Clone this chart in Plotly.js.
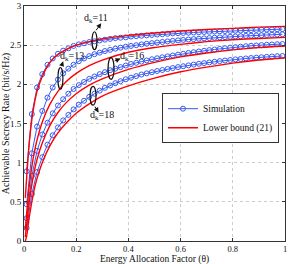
<!DOCTYPE html>
<html>
<head>
<meta charset="utf-8">
<script src="https://cdn.plot.ly/plotly-3.0.1.min.js"></script>
<style>html,body{margin:0;padding:0;background:#fff;}#chart{width:298px;height:264px;}</style>
</head>
<body>
<div id="chart"></div>
<script>
// Simulation points (theta = 0.01 : 0.02 : 0.99)
const thetaSim = [0.01,0.03,0.05,0.07,0.09,0.11,0.13,0.15,0.17,0.19,0.21,0.23,0.25,0.27,0.29,0.31,0.33,0.35,0.37,0.39,0.41,0.43,0.45,0.47,0.49,0.51,0.53,0.55,0.57,0.59,0.61,0.63,0.65,0.67,0.69,0.71,0.73,0.75,0.77,0.79,0.81,0.83,0.85,0.87,0.89,0.91,0.93,0.95,0.97,0.99];
const simD11 = [0.89,1.62,1.96,2.13,2.25,2.33,2.39,2.43,2.46,2.49,2.51,2.525,2.54,2.55,2.56,2.57,2.58,2.59,2.595,2.60,2.61,2.615,2.62,2.625,2.63,2.635,2.64,2.645,2.65,2.653,2.656,2.659,2.662,2.665,2.668,2.671,2.674,2.677,2.68,2.682,2.685,2.687,2.69,2.692,2.695,2.697,2.699,2.701,2.703,2.705];
const simD13 = [0.47,1.12,1.46,1.66,1.83,1.96,2.06,2.14,2.20,2.25,2.295,2.33,2.36,2.385,2.405,2.425,2.44,2.455,2.468,2.48,2.49,2.50,2.51,2.518,2.526,2.534,2.541,2.548,2.555,2.561,2.567,2.572,2.577,2.582,2.587,2.591,2.595,2.599,2.603,2.607,2.611,2.614,2.618,2.621,2.624,2.627,2.630,2.633,2.636,2.639];
const simD16 = [0.29,0.83,1.15,1.36,1.51,1.63,1.73,1.81,1.88,1.94,1.99,2.03,2.07,2.10,2.13,2.155,2.18,2.20,2.22,2.24,2.26,2.275,2.29,2.305,2.32,2.333,2.345,2.357,2.368,2.379,2.39,2.40,2.41,2.419,2.428,2.437,2.445,2.453,2.461,2.468,2.475,2.481,2.487,2.492,2.497,2.501,2.505,2.509,2.512,2.515];
const simD18 = [0.165,0.60,0.88,1.07,1.23,1.35,1.45,1.54,1.61,1.68,1.74,1.79,1.84,1.88,1.92,1.955,1.985,2.015,2.04,2.065,2.085,2.105,2.125,2.14,2.155,2.17,2.183,2.196,2.208,2.22,2.231,2.242,2.252,2.262,2.271,2.28,2.288,2.296,2.304,2.311,2.318,2.324,2.33,2.336,2.341,2.346,2.351,2.355,2.359,2.362];

// Lower bound (21)
const thetaLB = [0.005,0.01,0.02,0.03,0.04,0.05,0.07,0.1,0.13,0.16,0.2,0.25,0.3,0.4,0.5,0.6,0.7,0.8,0.9,1.0];
const lbD11 = [0.55,0.80,1.25,1.55,1.76,1.91,2.10,2.28,2.38,2.44,2.50,2.545,2.58,2.625,2.655,2.68,2.70,2.715,2.73,2.74];
const lbD13 = [0.15,0.35,0.70,0.95,1.14,1.29,1.52,1.75,1.91,2.03,2.14,2.24,2.31,2.41,2.47,2.51,2.545,2.57,2.585,2.60];
const lbD16 = [0.05,0.20,0.50,0.72,0.90,1.04,1.25,1.48,1.64,1.76,1.88,1.99,2.07,2.19,2.28,2.35,2.40,2.44,2.47,2.49];
const lbD18 = [0.00,0.06,0.30,0.50,0.67,0.80,1.00,1.22,1.38,1.50,1.63,1.75,1.85,1.98,2.08,2.16,2.22,2.27,2.31,2.34];

const xTicks = [0,0.2,0.4,0.6,0.8,1];
const xTickText = ['0','0.2','0.4','0.6','0.8','1'];
const yTicks = [0,0.5,1,1.5,2,2.5,3];
const yTickText = ['0','0.5','1','1.5','2','2.5','3'];
const dLabels = ['11','13','16','18'];
const xTitle = 'Energy Allocation Factor (θ)';
const yTitle = 'Achievable Secrecy Rate (bit/s/Hz)';

const blue = 'rgb(55,90,240)';
const red = 'rgb(255,0,0)';
const serif = 'Liberation Serif, Times New Roman, serif';

const sims = [simD11, simD13, simD16, simD18];
const lbs = [lbD11, lbD13, lbD16, lbD18];
const traces = [];
sims.forEach((s, i) => traces.push({
  x: thetaSim, y: s, type: 'scatter', mode: 'lines+markers',
  name: 'Simulation', legendgroup: 'sim', showlegend: i === 0,
  line: {color: blue, width: 1},
  marker: {symbol: 'circle-open', size: 5, color: blue, line: {width: 1}}
}));
lbs.forEach((s, i) => traces.push({
  x: thetaLB, y: s, type: 'scatter', mode: 'lines',
  name: 'Lower bound (21)', legendgroup: 'lb', showlegend: i === 0,
  line: {color: red, width: 1.4, shape: 'spline', smoothing: 0.6}
}));

// ellipses and arrows marking each d_k group
const ell = [
  {x0:0.2605,x1:0.2797,y0:2.443,y1:2.671},
  {x0:0.130,x1:0.149,y0:1.937,y1:2.215},
  {x0:0.322,x1:0.345,y0:2.063,y1:2.342},
  {x0:0.253,x1:0.276,y0:1.734,y1:1.975}
];
const shapes = ell.map(e => ({type:'circle', xref:'x', yref:'y', x0:e.x0, x1:e.x1, y0:e.y0, y1:e.y1, line:{color:'#111', width:1.2}}));
const arrows = [
  {x:0.296,y:2.78,ax:0.272,ay:2.671},
  {x:0.150,y:2.295,ax:0.142,ay:2.215},
  {x:0.370,y:2.33,ax:0.342,ay:2.29},
  {x:0.286,y:1.64,ax:0.268,ay:1.734}
];
const labelPos = [
  {x:0.276,y:2.84},
  {x:0.185,y:2.35},
  {x:0.415,y:2.35},
  {x:0.298,y:1.60}
];
const annotations = [];
arrows.forEach(a => annotations.push({x:a.x, y:a.y, ax:a.ax, ay:a.ay, axref:'x', ayref:'y', xref:'x', yref:'y', text:'', showarrow:true, arrowhead:2, arrowsize:1, arrowwidth:1, arrowcolor:'#111'}));
labelPos.forEach((p, i) => annotations.push({x:p.x, y:p.y, xref:'x', yref:'y', text:'d<sub>k</sub>=' + dLabels[i], showarrow:false, font:{family:serif, size:10, color:'#111'}}));
// x-axis title placed below the tick labels
annotations.push({x:0.5, y:-0.079, xref:'paper', yref:'paper', xanchor:'center', yanchor:'middle', text:xTitle, showarrow:false, font:{family:serif, size:9.5, color:'#111'}});

const layout = {
  width: 298, height: 264,
  margin: {l: 24, r: 13, t: 6, b: 23},
  paper_bgcolor: '#fff', plot_bgcolor: '#fff',
  font: {family: serif, size: 9, color: '#111'},
  showlegend: true,
  legend: {x: 0.977, y: 0.629, xanchor: 'right', yanchor: 'top', bgcolor: '#fff', bordercolor: '#333', borderwidth: 1,
    font: {family: serif, size: 9.5, color: '#111'}, tracegroupgap: 0, itemwidth: 30},
  xaxis: {
    range: [0, 1], tickvals: xTicks, ticktext: xTickText,
    ticks: 'inside', ticklen: 3, tickcolor: '#333', mirror: 'ticks', showline: true, linecolor: '#333', linewidth: 1,
    showgrid: true, gridcolor: '#ccc', griddash: 'dot', gridwidth: 1, zeroline: false,
    tickfont: {family: serif, size: 8.5}, automargin: false
  },
  yaxis: {
    range: [0, 3], tickvals: yTicks, ticktext: yTickText,
    ticks: 'inside', ticklen: 3, tickcolor: '#333', mirror: 'ticks', showline: true, linecolor: '#333', linewidth: 1,
    showgrid: true, gridcolor: '#ccc', griddash: 'dot', gridwidth: 1, zeroline: false,
    tickfont: {family: serif, size: 9}, automargin: false,
    title: {text: yTitle, font: {family: serif, size: 10}, standoff: 0}
  },
  shapes: shapes,
  annotations: annotations
};
Plotly.newPlot('chart', traces, layout, {displayModeBar: false, staticPlot: true});
</script>
</body>
</html>
